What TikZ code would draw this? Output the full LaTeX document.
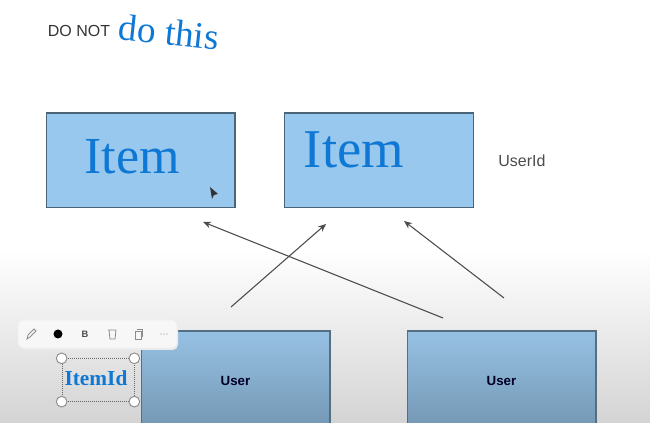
\documentclass[tikz,border=0pt]{standalone}
\usepackage{fontspec}
\usetikzlibrary{arrows.meta}
\setmainfont{Liberation Sans}
\newfontfamily\inkfont{Liberation Serif}
\definecolor{boxblue}{HTML}{99C8EE}
\definecolor{inkblue}{HTML}{0F78D4}
\tikzset{
  itembox/.style={draw=black!50!boxblue,fill=boxblue,line width=1pt,minimum width=141.5pt,minimum height=71pt,inner sep=0pt},
  userbox/.style={draw=black!45!boxblue,top color=boxblue!90!gray,bottom color=black!25!boxblue,line width=1pt,minimum width=141.5pt,minimum height=75pt,inner sep=0pt,font=\bfseries\fontsize{10}{10}\selectfont,text=black!85!blue},
  ink/.style={text=inkblue,font=\inkfont,inner sep=0pt},
  linkarrow/.style={draw=black!70,line width=0.8pt,-{Stealth[length=6pt,width=5pt]}},
  handle/.style={circle,draw=black!45,fill=white,line width=0.7pt,minimum size=8pt,inner sep=0pt},
  toolicon/.style={draw=black!45,line width=0.6pt}
}
\begin{document}
\begin{tikzpicture}[x=0.75pt,y=-0.75pt]
\useasboundingbox (0,0) rectangle (650,423);
\clip (0,0) rectangle (650,423);
\shade[top color=white,bottom color=black!17] (0,250) rectangle (650,423);

\node[font=\fontsize{12}{12}\selectfont,text=black!80] (donot) at (79,31) {DO NOT};
\node[ink,font=\inkfont\fontsize{28}{28}\selectfont,rotate=-6] (dothis) at (169,32) {do this};

\node[itembox] (item1) at (140.5,160.5) {};
\node[itembox] (item2) at (379,160.5) {};
\node[ink,font=\inkfont\fontsize{39}{39}\selectfont] (ink1) at (132,157) {Item};
\node[ink,font=\inkfont\fontsize{41}{41}\selectfont] (ink2) at (354,150) {Item};
\node[font=\fontsize{12}{12}\selectfont,text=black!70] (userid) at (522,161) {UserId};

\node[userbox] (user1) at (235.5,381) {User};
\node[userbox] (user2) at (501.5,381) {User};

\coordinate (a1) at (231,307);
\coordinate (a2) at (326,224);
\coordinate (b1) at (443,318);
\coordinate (b2) at (203,222);
\coordinate (c1) at (504,298);
\coordinate (c2) at (404,221);
\draw[linkarrow] (a1) -- (a2);
\draw[linkarrow] (b1) -- (b2);
\draw[linkarrow] (c1) -- (c2);

% cursor
\fill[black!80] (210,187) -- (218,194) -- (214,195) -- (212,199) -- cycle;

% toolbar
\fill[black!8,rounded corners=4pt] (19,322) rectangle (178,350);
\node[draw=black!6,fill=white!97!black,rounded corners=4pt,minimum width=119pt,minimum height=21pt,inner sep=0pt] (toolbar) at (97.5,334) {};
\draw[toolicon] (27,339) -- (28,335) -- (34,329) -- (36,331) -- (30,337) -- cycle;
\fill[black] (58,334) circle (4.5);
\node[font=\bfseries\scriptsize,text=black!70,inner sep=0pt] (bold) at (85,334) {B};
\draw[toolicon] (108,330) -- (116,330) (109,330) -- (110,339) -- (115,339) -- (116,330);
\draw[toolicon] (135,331) rectangle (141,339) (137,329) -- (142,329) -- (142,337);
\foreach \x in {161,164,167} \fill[black!45] (\x,334) circle (0.7);

% selection
\node[draw=black!60,densely dotted,line width=0.5pt,minimum width=54pt,minimum height=32pt,inner sep=0pt] (select) at (98,380) {};
\node[handle] at (select.north west) {};
\node[handle] at (select.north east) {};
\node[handle] at (select.south west) {};
\node[handle] at (select.south east) {};
\node[ink,font=\inkfont\bfseries\fontsize{16}{16}\selectfont] (ink3) at (96,378) {ItemId};
\end{tikzpicture}
\end{document}
